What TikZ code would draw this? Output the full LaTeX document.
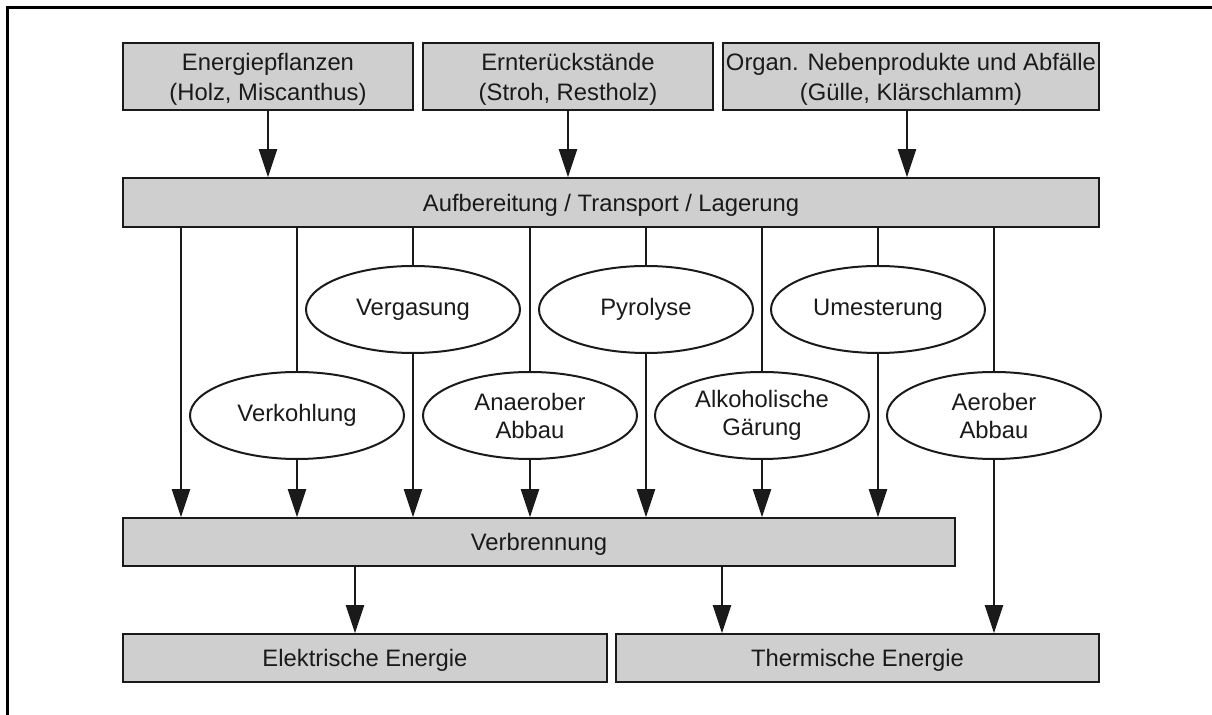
\documentclass[tikz,border=0pt]{standalone}
\usepackage{fontspec}
\setmainfont{Liberation Sans}
\usetikzlibrary{arrows.meta,shapes.geometric}
\definecolor{boxfill}{HTML}{CFCFCF}
\definecolor{ink}{HTML}{1A1A1A}
\tikzset{
  box/.style={draw=ink, line width=0.8pt, fill=boxfill, rectangle, inner sep=0pt,
    align=center, text=ink, text depth=0pt, font=\fontsize{11.9}{15}\selectfont},
  proc/.style={draw=ink, line width=1pt, fill=white, ellipse, inner sep=0pt,
    minimum width=107pt, minimum height=43.5pt, align=center, text=ink,
    font=\fontsize{11.9}{14}\selectfont},
  flow/.style={draw=ink, line width=1pt},
  arr/.style={flow, -{Triangle[length=14pt,width=9pt]}}
}
\begin{document}
\begin{tikzpicture}[x=0.5pt,y=-0.5pt]
\useasboundingbox (0,0) rectangle (1212,715);
% frame
\draw[line width=1.5pt, black] (7.5,715) -- (7.5,7.5) -- (1212,7.5);

% sources
\node[box, minimum width=145pt, minimum height=33.5pt] (b1) at (268,76.5) {Energiepflanzen\\(Holz, Miscanthus)};
\node[box, minimum width=145pt, minimum height=33.5pt] (b2) at (568,76.5) {Ernterückstände\\(Stroh, Restholz)};
\node[box, minimum width=188pt, minimum height=33.5pt] (b3) at (911,76.5) {Organ. Nebenprodukte und Abfälle\\(Gülle, Klärschlamm)};

% preparation
\node[box, minimum width=488pt, minimum height=24.5pt] (auf) at (611,202.5) {Aufbereitung / Transport / Lagerung};

% conversion processes
\node[proc] (vergas) at (413,309.5) {Vergasung};
\node[proc] (pyro) at (646,309.5) {Pyrolyse};
\node[proc] (umest) at (878,309.5) {Umesterung};
\node[proc] (verkohl) at (297,415.5) {Verkohlung};
\node[proc] (anaer) at (530,415.5) {Anaerober\\Abbau};
\node[proc] (alko) at (762,415.5) {Alkoholische\\Gärung};
\node[proc] (aerob) at (994,415.5) {Aerober\\Abbau};

% combustion and end products
\node[box, minimum width=416pt, minimum height=24pt] (verb) at (539,542) {Verbrennung};
\node[box, minimum width=242pt, minimum height=24pt] (elek) at (365,658) {Elektrische Energie};
\node[box, minimum width=241.5pt, minimum height=24pt] (therm) at (857.5,658) {Thermische Energie};

% column positions
\coordinate (c1) at (181,0);
\coordinate (c3) at (355,0);
\coordinate (c4) at (722,0);
\coordinate (c5) at (907,0);

% sources to preparation
\draw[arr] (b1.south) -- (auf.north -| b1.south);
\draw[arr] (b2.south) -- (auf.north -| b2.south);
\draw[arr] (b3.south -| c5) -- (auf.north -| c5);

% direct path
\draw[arr] (auf.south -| c1) -- (verb.north -| c1);

% through processes
\foreach \p in {vergas,pyro,umest,verkohl,anaer,alko}{
  \draw[flow] (auf.south -| \p.north) -- (\p.north);
  \draw[arr] (\p.south) -- (verb.north -| \p.south);
}
\draw[flow] (auf.south -| aerob.north) -- (aerob.north);
\draw[arr] (aerob.south) -- (therm.north -| aerob.south);

% combustion to energy
\draw[arr] (verb.south -| c3) -- (elek.north -| c3);
\draw[arr] (verb.south -| c4) -- (therm.north -| c4);
\end{tikzpicture}
\end{document}
